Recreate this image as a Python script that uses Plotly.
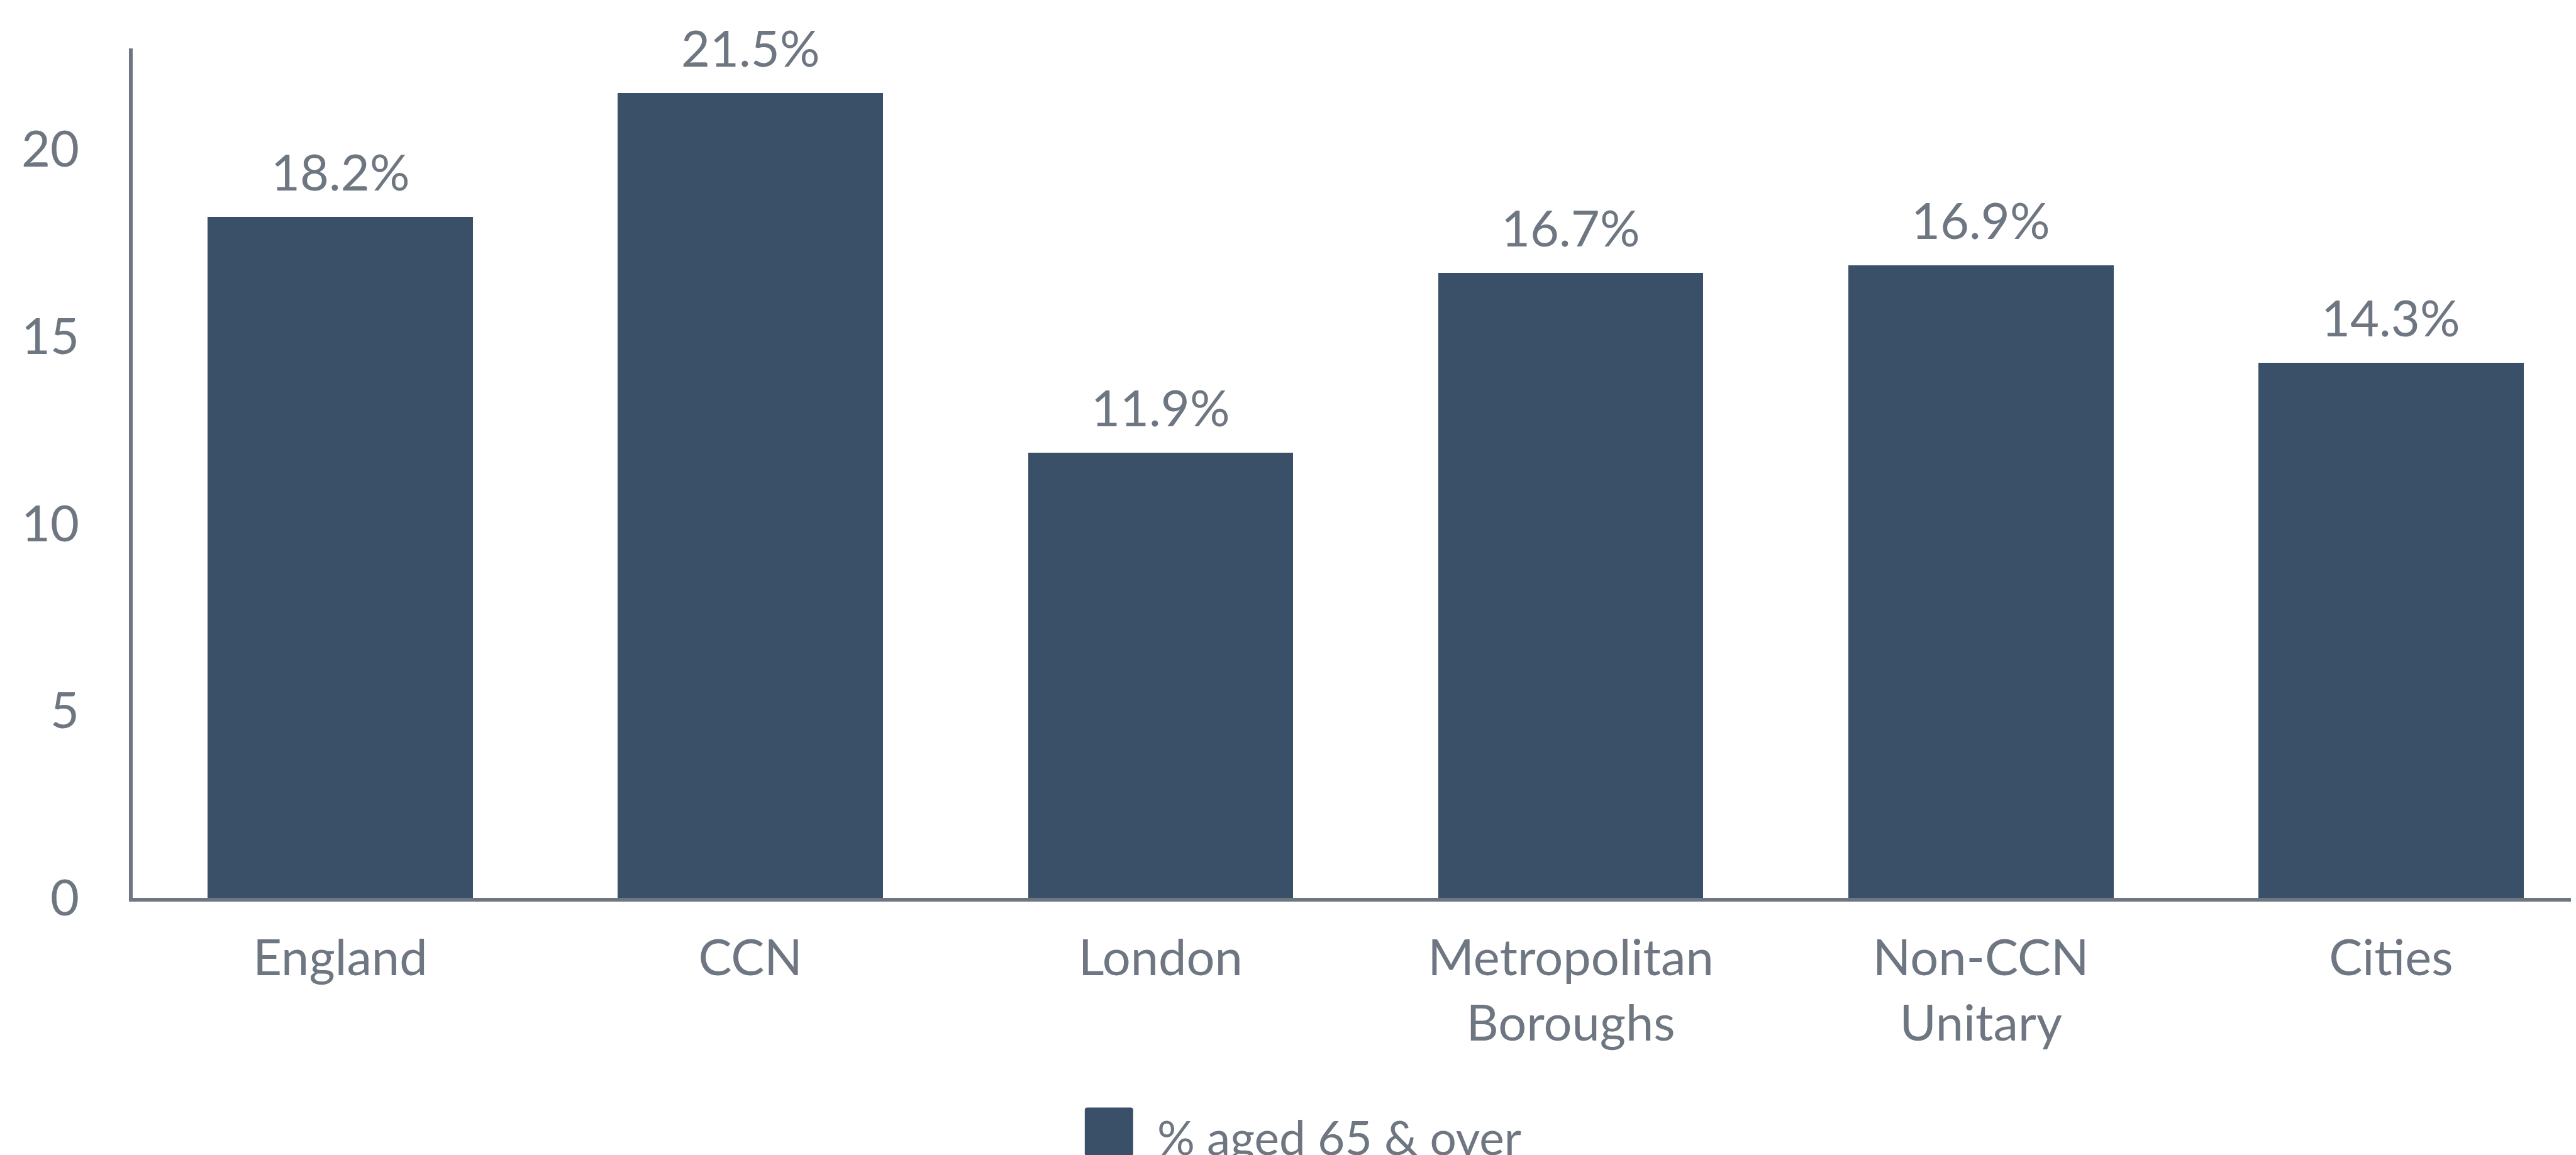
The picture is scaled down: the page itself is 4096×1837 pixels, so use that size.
import plotly.graph_objects as go

# ---- data ----
categories = ["England", "CCN", "London", "Metropolitan<br>Boroughs", "Non-CCN<br>Unitary", "Cities"]
values = [18.2, 21.5, 11.9, 16.7, 16.9, 14.3]
value_labels = ["18.2%", "21.5%", "11.9%", "16.7%", "16.9%", "14.3%"]
y_ticks = [0, 5, 10, 15, 20]
series_name = "% aged 65 & over"

# ---- style ----
# the page body has an 8px default margin, so the figure is 8px smaller
OFF = 8
W, H = 4096 - OFF, 1837 - OFF
BAR = "#3a5068"
GREY = "#6e7781"
FONT = "Lato"
FS = 79.4
FS_LEG = 74.8
L_PX, T_PX, BOT_PX, R_PX = 211.3 - OFF, 77.4 - OFF, 1428.5 - OFF, float(W)

def px2paper_x(px):
    return (px - L_PX) / (R_PX - L_PX)

def px2paper_y(py):
    return (BOT_PX - py) / (BOT_PX - T_PX)

fig = go.Figure()
fig.add_trace(go.Bar(
    x=categories, y=values, name=series_name,
    marker=dict(color=BAR, line=dict(width=0)),
    width=0.6465, showlegend=False, cliponaxis=False,
))

for c, v, t in zip(categories, values, value_labels):
    fig.add_annotation(x=c, y=v, text=t, showarrow=False, yanchor="middle",
                       xanchor="center", yshift=72.7,
                       font=dict(family=FONT, size=FS, color=GREY))

# legend (drawn manually to match the large swatch)
sx0, sx1, sy0, sy1 = 1725 - OFF, 1802 - OFF, 1762 - OFF, 1839 - OFF
r = 4
x0, x1 = px2paper_x(sx0), px2paper_x(sx1)
y0, y1 = px2paper_y(sy1), px2paper_y(sy0)
rx = r / (R_PX - L_PX)
ry = r / (BOT_PX - T_PX)
path = (f"M{x0+rx},{y1} L{x1-rx},{y1} Q{x1},{y1} {x1},{y1-ry} L{x1},{y0+ry} "
        f"Q{x1},{y0} {x1-rx},{y0} L{x0+rx},{y0} Q{x0},{y0} {x0},{y0+ry} "
        f"L{x0},{y1-ry} Q{x0},{y1} {x0+rx},{y1} Z")
fig.add_shape(type="path", path=path, xref="paper", yref="paper",
              fillcolor=BAR, line=dict(width=0), layer="above")
fig.add_annotation(x=px2paper_x(1838 - OFF), y=px2paper_y(1808.6 - OFF), xref="paper", yref="paper",
                   text=series_name, showarrow=False, xanchor="left", yanchor="middle",
                   font=dict(family=FONT, size=FS_LEG, color=GREY))

fig.update_layout(
    width=W, height=H,
    margin=dict(l=L_PX, r=0, t=T_PX, b=H - BOT_PX, pad=0, autoexpand=False),
    paper_bgcolor="white", plot_bgcolor="white",
    font=dict(family=FONT, size=FS, color=GREY),
    showlegend=False,
    bargap=0,
)
fig.update_xaxes(
    type="category", range=[-0.506, 5.451],
    showline=True, linecolor=GREY, linewidth=6,
    showgrid=False, zeroline=False, ticks="",
    ticklabelstandoff=22,
    tickfont=dict(family=FONT, size=FS, color=GREY),
)
fig.update_yaxes(
    range=[0, 22.7], tickvals=y_ticks, ticktext=[str(v) for v in y_ticks],
    showline=True, linecolor=GREY, linewidth=6,
    showgrid=False, zeroline=False, ticks="",
    ticklabelstandoff=63,
    tickfont=dict(family=FONT, size=FS, color=GREY),
)

fig.write_html("out.html")
